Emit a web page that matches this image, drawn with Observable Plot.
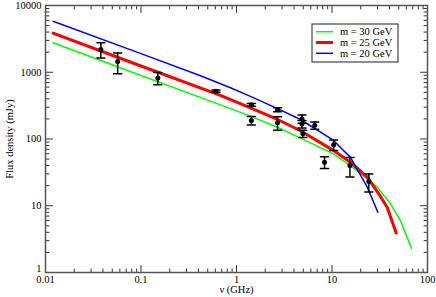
<!DOCTYPE html>
<html><head><meta charset="utf-8">
<script src="https://cdn.jsdelivr.net/npm/d3@7"></script>
<script src="https://cdn.jsdelivr.net/npm/@observablehq/plot@0.6"></script>
<style>body{margin:0;background:#fff}</style>
</head><body><div id="chart"></div>
<script>
// Observations (GHz, mJy, ± error)
const obsFreq = [0.038, 0.057, 0.150, 0.61, 1.43, 1.43, 2.69, 2.69, 4.85, 4.85, 4.95, 6.6, 8.35, 10.4, 15.4, 24.3];
const obsFlux = [2200, 1450, 820, 520, 325, 190, 275, 175, 200, 168, 120, 160, 45, 82, 40, 23];
const obsErr  = [560, 500, 170, 20, 15, 28, 20, 40, 28, 22, 15, 20, 9, 15, 13, 7];

// Model curves
const m30Freq = [0.012, 0.1, 0.68, 1.4, 2.69, 4.68, 10.4, 15.6, 23.4, 29.7, 41, 52, 68];
const m30Flux = [2760, 893, 325, 220, 150, 103, 60, 40, 25.3, 19, 10.7, 6.0, 2.3];
const m25Freq = [0.012, 0.1, 0.68, 1.4, 2.69, 4.68, 10.4, 15.6, 23.4, 30.9, 37.8, 47];
const m25Flux = [3850, 1241, 449, 292, 196, 133, 67, 45, 26.8, 15.1, 9.5, 3.9];
const m20Freq = [0.012, 0.1, 0.42, 0.865, 1.4, 2.69, 4.68, 10.4, 12.8, 15.6, 23.4, 30.2];
const m20Flux = [5820, 1900, 885, 585, 435, 285, 196, 95, 70, 53, 19, 8.0];

const seriesNames = ["m = 30 GeV", "m = 25 GeV", "m = 20 GeV"];
const seriesColors = ["#00ff00", "#ff0000", "#0000ff"];
const seriesWidths = [1.5, 3, 1.5];

const xMajor = [0.01, 0.1, 1, 10, 100];
const yMajor = [1, 10, 100, 1000, 10000];
const xLabel = "ν (GHz)";
const yLabel = "Flux density (mJy)";

const minorOf = (majors) => majors.slice(0, -1).flatMap(m => d3.range(2, 10).map(k => k * m));
const xMinor = minorOf(xMajor);
const yMinor = minorOf(yMajor);

const obs = obsFreq.map((f, i) => ({f, s: obsFlux[i], lo: obsFlux[i] - obsErr[i], hi: obsFlux[i] + obsErr[i]}));
const curves = [[m30Freq, m30Flux], [m25Freq, m25Flux], [m20Freq, m20Flux]]
  .flatMap(([fs, ss], k) => fs.map((f, i) => ({f, s: ss[i], k})));

const tickShape = {draw(context, l) { context.moveTo(0, 0); context.lineTo(0, -l); }};
const tickCol = "#333";
function edgeTicks(vals, len, axis) {
  if (axis === "x") return [
    Plot.vector(vals, {x: d => d, frameAnchor: "bottom", rotate: 0, length: len, anchor: "start", shape: tickShape, stroke: tickCol, strokeWidth: 1}),
    Plot.vector(vals, {x: d => d, frameAnchor: "top", rotate: 180, length: len, anchor: "start", shape: tickShape, stroke: tickCol, strokeWidth: 1})
  ];
  return [
    Plot.vector(vals, {y: d => d, frameAnchor: "left", rotate: 90, length: len, anchor: "start", shape: tickShape, stroke: tickCol, strokeWidth: 1}),
    Plot.vector(vals, {y: d => d, frameAnchor: "right", rotate: -90, length: len, anchor: "start", shape: tickShape, stroke: tickCol, strokeWidth: 1})
  ];
}

const chart = Plot.plot({
  width: 436, height: 297,
  marginLeft: 45, marginRight: 9, marginTop: 5, marginBottom: 25,
  style: {fontFamily: "'Liberation Serif', serif", fontSize: "10.5px", color: "#000", background: "#fff"},
  x: {type: "log", domain: [0.01, 100]},
  y: {type: "log", domain: [1, 10000]},
  marks: [
    Plot.line(curves, {x: "f", y: "s", z: "k", stroke: d => seriesColors[d.k], strokeWidth: d => seriesWidths[d.k]}),
    Plot.ruleX(obs, {x: "f", y1: "lo", y2: "hi", stroke: "#000", strokeWidth: 1.5}),
    Plot.vector(obs, {x: "f", y: "hi", rotate: 90, length: 8, anchor: "middle", shape: tickShape, stroke: "#000", strokeWidth: 1.5}),
    Plot.vector(obs, {x: "f", y: "lo", rotate: 90, length: 8, anchor: "middle", shape: tickShape, stroke: "#000", strokeWidth: 1.5}),
    Plot.dot(obs, {x: "f", y: "s", r: 2.5, fill: "#000"}),
    ...edgeTicks(xMajor, 7, "x"),
    ...edgeTicks(xMinor, 3.5, "x"),
    ...edgeTicks(yMajor, 7, "y"),
    ...edgeTicks(yMinor, 3.5, "y"),
    Plot.frame({stroke: "#555", strokeWidth: 1.5}),
    Plot.axisX({ticks: xMajor, tickSize: 0, tickPadding: 3, tickFormat: d => String(d), label: xLabel, labelAnchor: "center", labelArrow: "none", labelOffset: 20}),
    Plot.axisY({ticks: yMajor.slice(1), tickSize: 0, tickPadding: 4, tickFormat: d => String(d), label: yLabel, labelAnchor: "center", labelArrow: "none", labelOffset: 40}),
    Plot.axisY({ticks: yMajor.slice(0, 1), tickSize: 0, tickPadding: 4, dy: -4, tickFormat: d => String(d), label: null})
  ]
});
document.getElementById("chart").append(chart);

// Legend box inside the plot
const svg = d3.select(chart);
const lg = svg.append("g").attr("transform", "translate(312,24)").attr("text-anchor", "start");
lg.append("rect").attr("width", 86).attr("height", 38).attr("fill", "#fff").attr("stroke", "#444").attr("stroke-width", 1.2);
seriesNames.forEach((name, i) => {
  const y = 7.7 + i * 10.8;
  lg.append("line").attr("x1", 4).attr("x2", 21).attr("y1", y).attr("y2", y)
    .attr("stroke", seriesColors[i]).attr("stroke-width", seriesWidths[i]);
  lg.append("text").attr("x", 28).attr("y", y + 3.6).attr("text-anchor", "start").text(name)
    .attr("font-family", "'Liberation Serif', serif").attr("font-size", "10.5px").attr("fill", "#000");
});
</script>
</body></html>
